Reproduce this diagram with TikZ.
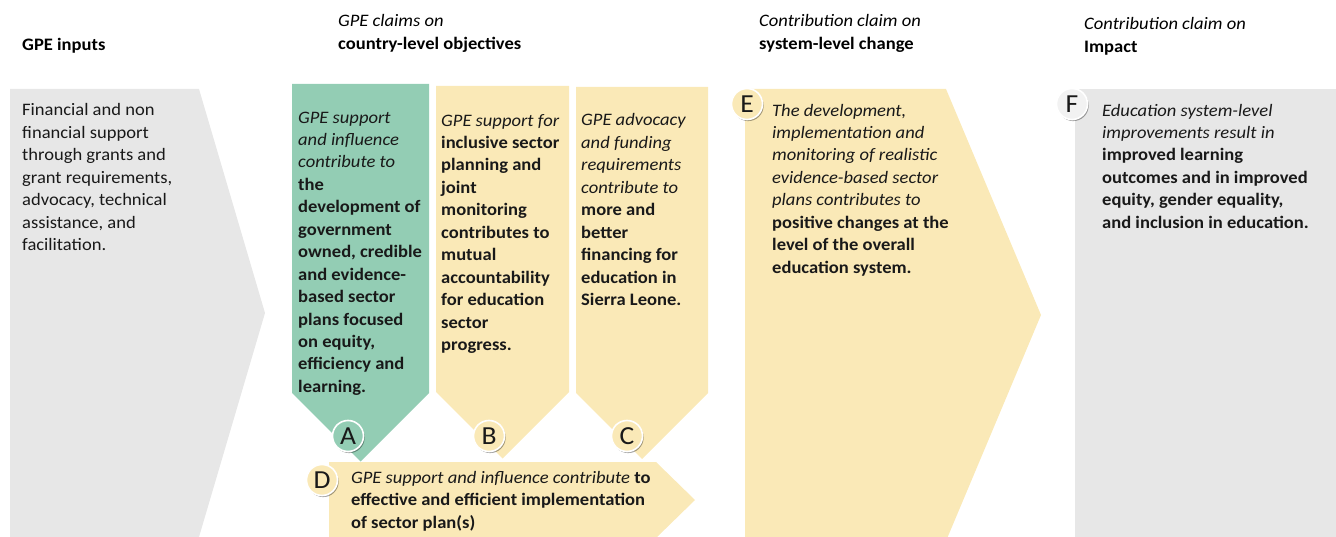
\documentclass[tikz,border=0pt]{standalone}
\usepackage{fontspec}
\setmainfont{Carlito}[FakeStretch=1.06]
\usetikzlibrary{shadows}
\definecolor{gpegreen}{RGB}{147,205,180}
\definecolor{gpeyellow}{RGB}{250,233,183}
\definecolor{gpegray}{RGB}{231,231,231}
\definecolor{badgegray}{RGB}{242,242,242}
\definecolor{txt}{RGB}{25,25,25}
\begin{document}
% text nodes are anchored at the baseline of their last line
\begin{tikzpicture}[x=1pt,y=-1pt,
  body/.style={anchor=base west, inner sep=0pt, align=left,
    font=\fontsize{17.5}{22.45}\selectfont, text=txt},
  head/.style={anchor=base west, inner sep=0pt, align=left,
    font=\fontsize{17.5}{23}\selectfont, text=black},
  badge/.style={circle, minimum size=31pt, inner sep=0pt, draw=white,
    line width=1.6pt, font=\fontsize{26}{26}\selectfont, text=txt,
    drop shadow={shadow xshift=1.2pt, shadow yshift=-1.6pt, opacity=0.35, fill=black}},
]
\useasboundingbox (0,0) rectangle (1336,537);
\begin{scope}
\clip (0,0) rectangle (1336,537);
% column shapes
\fill[gpegray]   (10,89) -- (199,89) -- (265,313) -- (199,537) -- (10,537) -- cycle;
\fill[gpegreen]  (292,84) -- (429,84) -- (429,393) -- (360.5,461.5) -- (292,393) -- cycle;
\fill[gpeyellow] (436,86) -- (569,86) -- (569,392) -- (502.5,458.5) -- (436,392) -- cycle;
\fill[gpeyellow] (576,87) -- (708,87) -- (708,393) -- (642,459) -- (576,393) -- cycle;
\fill[gpeyellow] (329,462) -- (656,462) -- (695,500) -- (656,538) -- (329,538) -- cycle;
\fill[gpeyellow] (745,89) -- (946,89) -- (1041,315) -- (946,541) -- (745,541) -- cycle;
\fill[gpegray]   (1075,89) rectangle (1336,537);
\end{scope}

% column headings
\node[head] (hIn) at (22,51) {\textbf{GPE inputs}};
\node[head] (hCo) at (338,50) {\textit{GPE claims on}\\\textbf{country-level objectives}};
\node[head] (hSy) at (759,50) {\textit{Contribution claim on}\\\textbf{system-level change}};
\node[head] (hIm) at (1084,53) {\textit{Contribution claim on}\\\textbf{Impact}};

% box texts
\node[body] (tIn) at (22,250.7) {Financial and non\\financial support\\through grants and\\grant requirements,\\advocacy, technical\\assistance, and\\facilitation.};
\node[body] (tA) at (298,392.4) {\textit{GPE support}\\\textit{and influence}\\\textit{contribute to}\\\textbf{the}\\\textbf{development of}\\\textbf{government}\\\textbf{owned, credible}\\\textbf{and evidence-}\\\textbf{based sector}\\\textbf{plans focused}\\\textbf{on equity,}\\\textbf{efficiency and}\\\textbf{learning.}};
\node[body] (tB) at (441,350.5) {\textit{GPE support for}\\\textbf{inclusive sector}\\\textbf{planning and}\\\textbf{joint}\\\textbf{monitoring}\\\textbf{contributes to}\\\textbf{mutual}\\\textbf{accountability}\\\textbf{for education}\\\textbf{sector}\\\textbf{progress.}};
\node[body] (tC) at (581,305.6) {\textit{GPE advocacy}\\\textit{and funding}\\\textit{requirements}\\\textit{contribute to}\\\textbf{more and}\\\textbf{better}\\\textbf{financing for}\\\textbf{education in}\\\textbf{Sierra Leone.}};
\node[body] (tD) at (351,528.4) {\textit{GPE support and influence contribute} \textbf{to}\\\textbf{effective and efficient implementation}\\\textbf{of sector plan(s)}};
\node[body] (tE) at (772,273.2) {\textit{The development,}\\\textit{implementation and}\\\textit{monitoring of realistic}\\\textit{evidence-based sector}\\\textit{plans contributes to}\\\textbf{positive changes at the}\\\textbf{level of the overall}\\\textbf{education system.}};
\node[body] (tF) at (1102,228.3) {\textit{Education system-level}\\\textit{improvements result in}\\\textbf{improved learning}\\\textbf{outcomes and in improved}\\\textbf{equity, gender equality,}\\\textbf{and inclusion in education.}};

% letter badges
\node[badge, fill=gpegreen]  (bA) at (348,436) {A};
\node[badge, fill=gpeyellow] (bB) at (489,436) {B};
\node[badge, fill=gpeyellow] (bC) at (627,436) {C};
\node[badge, fill=gpeyellow] (bD) at (322,480) {D};
\node[badge, fill=gpeyellow] (bE) at (747,104) {E};
\node[badge, fill=badgegray] (bF) at (1072,104) {F};
\end{tikzpicture}
\end{document}
